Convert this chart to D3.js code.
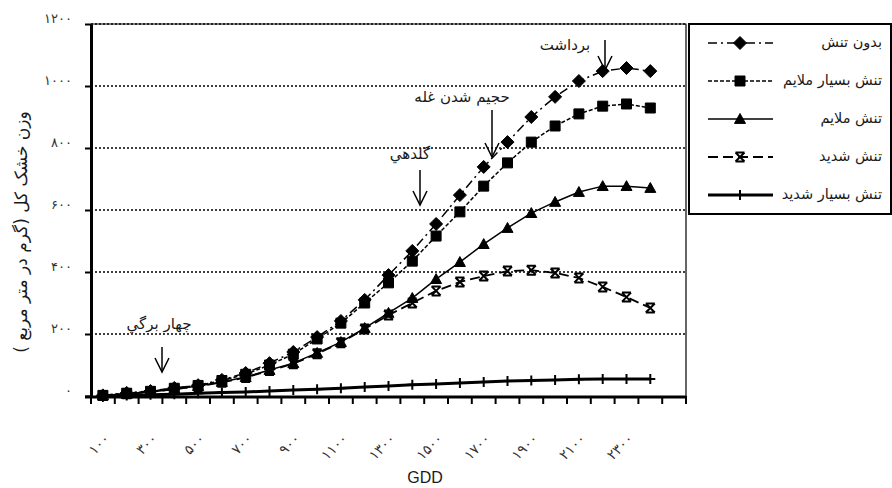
<!DOCTYPE html>
<html>
<head>
<meta charset="utf-8">
<script src="https://cdn.jsdelivr.net/npm/d3@7"></script>
<style>
body { margin: 0; background: #fff; }
text { font-family: "DejaVu Sans", sans-serif; fill: #1a1a1a; }
</style>
</head>
<body>
<script>
// categories (GDD) - last one has no data
var gdd = [100, 200, 300, 400, 500, 600, 700, 800, 900, 1000, 1100, 1200, 1300,
           1400, 1500, 1600, 1700, 1800, 1900, 2000, 2100, 2200, 2300, 2400, 2500];
var xLabels = [100, 300, 500, 700, 900, 1100, 1300, 1500, 1700, 1900, 2100, 2300];
var yTicks = [0, 200, 400, 600, 800, 1000, 1200];

var seriesNames = ['بدون تنش', 'تنش بسیار ملایم', 'تنش ملایم', 'تنش شدید', 'تنش بسیار شدید'];

var noStress   = [2, 10, 16, 26, 35, 52, 74, 106, 142, 190, 242, 310, 390, 468, 555, 648, 739, 819, 900, 965, 1016, 1048, 1058, 1048];
var verySlight = [2, 9, 15, 25, 34, 50, 70, 100, 135, 184, 235, 300, 365, 435, 516, 594, 677, 752, 819, 871, 910, 935, 942, 929];
var slight     = [2, 7, 13, 22, 32, 45, 61, 84, 106, 139, 174, 219, 268, 316, 377, 432, 490, 542, 590, 626, 658, 677, 677, 671];
var severe     = [2, 7, 13, 22, 31, 44, 60, 82, 104, 136, 172, 216, 261, 300, 339, 368, 387, 403, 406, 397, 381, 352, 319, 284];
var verySevere = [0, 2, 4, 6, 9, 11, 13, 16, 19, 22, 25, 29, 32, 36, 39, 42, 45, 48, 50, 52, 54, 55, 55, 55];

var annotationTexts = ['چهار برگي', 'گلدهي', 'حجیم شدن غله', 'برداشت'];

var width = 892,
    height = 488;

var margin = {
  top: 24,
  right: 206,
  left: 91,
  bottom: 92
};

var faDigits = '۰۱۲۳۴۵۶۷۸۹';
function toFa(n) {
  return String(n).replace(/[0-9]/g, (d) => faDigits[+d]);
}

var svg = d3.select('body')
      .append('svg')
      .attr('width', width)
      .attr('height', height);

var x = d3.scaleBand()
    .domain(gdd)
    .range([margin.left, width - margin.right])
    .padding(0);

var y = d3.scaleLinear()
    .domain([0, 1200])
    .range([height - margin.bottom, margin.top]);

var cx = (i) => x(gdd[i]) + x.bandwidth() / 2;

// dotted grid
svg.selectAll('.grid')
  .data(yTicks.filter((d) => d > 0))
  .enter()
  .append('line')
  .attr('x1', margin.left)
  .attr('x2', width - margin.right)
  .attr('y1', (d) => y(d))
  .attr('y2', (d) => y(d))
  .attr('stroke', '#000')
  .attr('stroke-width', 1.6)
  .attr('stroke-dasharray', '2,2');

// plot border top / right
svg.append('path')
  .attr('d', 'M' + margin.left + ',' + margin.top + 'H' + (width - margin.right) + 'V' + y(0))
  .attr('fill', 'none')
  .attr('stroke', '#000')
  .attr('stroke-width', 1.2);

// y axis
var yAxis = d3.axisLeft(y)
    .tickValues(yTicks)
    .tickFormat(toFa)
    .tickSize(6)
    .tickSizeOuter(0);

var gy = svg.append('g')
  .attr('transform', 'translate(' + margin.left + ',0)')
  .call(yAxis);
gy.select('.domain').attr('stroke-width', 3);
gy.selectAll('.tick line').attr('stroke-width', 2);
gy.selectAll('.tick text')
  .attr('x', -19)
  .attr('dy', '-0.1em')
  .style('font-size', '13px')
  .style('fill', '#333');

// x axis (labels only, ticks at category boundaries)
var xAxis = d3.axisBottom(x)
    .tickValues(xLabels)
    .tickFormat(toFa)
    .tickSize(0)
    .tickSizeOuter(0);

var gx = svg.append('g')
  .attr('transform', 'translate(0,' + y(0) + ')')
  .call(xAxis);
gx.select('.domain').remove();
gx.selectAll('.tick text')
  .attr('text-anchor', 'end')
  .attr('transform', 'translate(4,40) rotate(-45)')
  .attr('dy', '0.35em')
  .attr('y', 0)
  .style('font-size', '14px')
  .style('fill', '#333');

var bounds = gdd.map((d) => x(d)).concat([x.range()[1]]);
svg.selectAll('.xtick')
  .data(bounds)
  .enter()
  .append('line')
  .attr('x1', (d) => d)
  .attr('x2', (d) => d)
  .attr('y1', y(0))
  .attr('y2', y(0) + 8)
  .attr('stroke', '#000')
  .attr('stroke-width', 2);

svg.append('line')
  .attr('x1', margin.left - 6)
  .attr('x2', width - margin.right)
  .attr('y1', y(0) + 1)
  .attr('y2', y(0) + 1)
  .attr('stroke', '#000')
  .attr('stroke-width', 3);

// markers
function diamond(s) { return 'M0,' + (-s) + 'L' + s + ',0L0,' + s + 'L' + (-s) + ',0Z'; }
function square(s) { return 'M' + (-s) + ',' + (-s) + 'H' + s + 'V' + s + 'H' + (-s) + 'Z'; }
function triangle(s) { return 'M0,' + (-s) + 'L' + s + ',' + (s * 0.8) + 'H' + (-s) + 'Z'; }
function star(s) { return 'M' + (-s) + ',' + (-s) + 'L' + s + ',' + s + 'M' + s + ',' + (-s) + 'L' + (-s) + ',' + s +
  'M' + (-s) + ',' + (-s) + 'H' + s + 'M' + (-s) + ',' + s + 'H' + s; }
function plus(s) { return 'M' + (-s) + ',0H' + s + 'M0,' + (-s) + 'V' + s; }

var series = [
  {name: seriesNames[0], values: noStress,   dash: '9,4,2,4', width: 1.5, marker: diamond(6.5), fill: true},
  {name: seriesNames[1], values: verySlight, dash: '4,2',     width: 1.5, marker: square(5),    fill: true},
  {name: seriesNames[2], values: slight,     dash: null,      width: 1.5, marker: triangle(5.5), fill: true},
  {name: seriesNames[3], values: severe,     dash: '10,5',    width: 1.8, marker: star(4.5),    fill: false},
  {name: seriesNames[4], values: verySevere, dash: null,      width: 3,   marker: plus(5),      fill: false}
];

var line = d3.line()
    .x((d, i) => cx(i))
    .y((d) => y(d));

// draw the bottom series first
series.slice().reverse().forEach((s) => {
  svg.append('path')
    .datum(s.values)
    .attr('d', line)
    .attr('fill', 'none')
    .attr('stroke', '#000')
    .attr('stroke-width', s.width)
    .attr('stroke-dasharray', s.dash);

  svg.selectAll(null)
    .data(s.values)
    .enter()
    .append('path')
    .attr('transform', (d, i) => 'translate(' + cx(i) + ',' + y(d) + ')')
    .attr('d', s.marker)
    .attr('fill', s.fill ? '#000' : 'none')
    .attr('stroke', '#000')
    .attr('stroke-width', s.fill ? 1 : 2);
});

// annotations: arrow x, arrow top, arrow tip, text centre x, text baseline
var annLayout = [
  [162, 347, 372, 159, 329],
  [420, 170, 205, 410, 159],
  [492, 110, 157, 462, 102],
  [605, 40, 70, 565, 50]
];

annLayout.forEach((a, i) => {
  svg.append('line')
    .attr('x1', a[0]).attr('x2', a[0])
    .attr('y1', a[1]).attr('y2', a[2])
    .attr('stroke', '#000')
    .attr('stroke-width', 1.5);
  svg.append('path')
    .attr('d', 'M' + (a[0] - 7) + ',' + (a[2] - 14) + 'L' + a[0] + ',' + a[2] + 'L' + (a[0] + 7) + ',' + (a[2] - 14))
    .attr('fill', 'none')
    .attr('stroke', '#000')
    .attr('stroke-width', 1.5);
  svg.append('text')
    .attr('x', a[3])
    .attr('y', a[4])
    .attr('text-anchor', 'middle')
    .attr('direction', 'rtl')
    .style('font-size', '15px')
    .text(annotationTexts[i]);
});

// axis titles
svg.append('text')
  .attr('transform', 'translate(27,232) rotate(-90)')
  .attr('text-anchor', 'middle')
  .attr('direction', 'rtl')
  .style('font-size', '17px')
  .text('وزن خشک کل (گرم در متر مربع )');

svg.append('text')
  .attr('x', 425)
  .attr('y', 483)
  .attr('text-anchor', 'middle')
  .style('font-family', '"Liberation Sans", Arial, sans-serif')
  .style('font-size', '16px')
  .text('GDD');

// legend
var legend = svg.append('g');
legend.append('rect')
  .attr('x', 689)
  .attr('y', 24)
  .attr('width', 202)
  .attr('height', 190)
  .attr('fill', '#fff')
  .attr('stroke', '#000')
  .attr('stroke-width', 2);

series.forEach((s, i) => {
  var ly = 43 + i * 38;
  legend.append('line')
    .attr('x1', 708).attr('x2', 773)
    .attr('y1', ly).attr('y2', ly)
    .attr('stroke', '#000')
    .attr('stroke-width', s.width)
    .attr('stroke-dasharray', s.dash);
  legend.append('path')
    .attr('transform', 'translate(740,' + ly + ')')
    .attr('d', s.marker)
    .attr('fill', s.fill ? '#000' : 'none')
    .attr('stroke', '#000')
    .attr('stroke-width', s.fill ? 1 : 2);
  legend.append('text')
    .attr('x', 882)
    .attr('y', ly)
    .attr('dy', '0.3em')
    .attr('direction', 'rtl')
    .attr('text-anchor', 'start')
    .style('font-size', '14.5px')
    .text(s.name);
});
</script>
</body>
</html>
